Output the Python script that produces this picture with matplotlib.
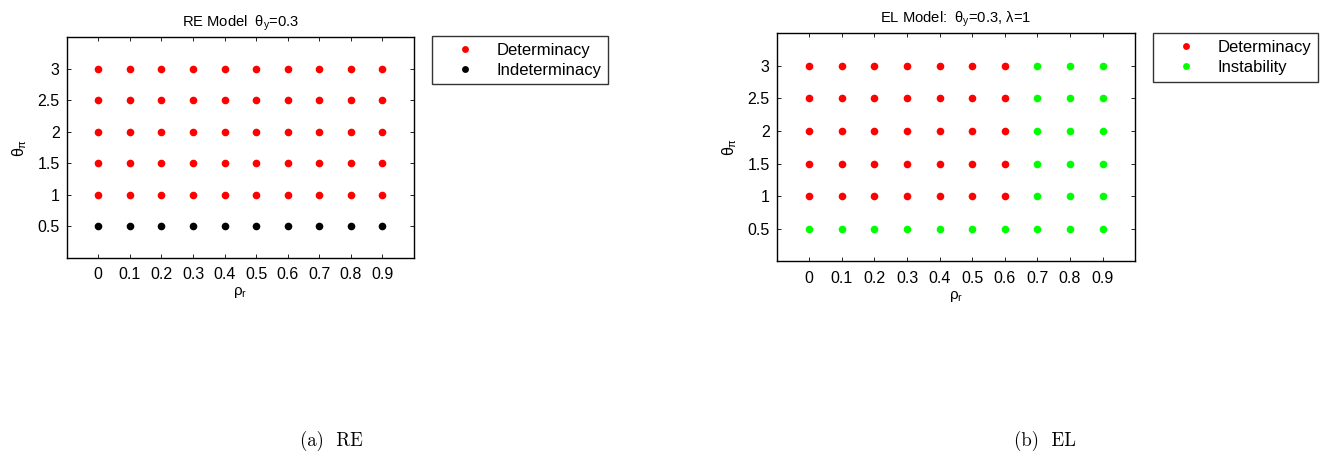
import matplotlib
matplotlib.use("Agg")
import matplotlib.pyplot as plt
import numpy as np

plt.rcParams["font.family"] = ["Liberation Sans", "DejaVu Sans"]
plt.rcParams["mathtext.fontset"] = "custom"
plt.rcParams["mathtext.rm"] = "Liberation Sans"
plt.rcParams["mathtext.it"] = "Liberation Sans"
plt.rcParams["mathtext.bf"] = "Liberation Sans:bold"

# Grid of policy parameters
rho_r = [0.0, 0.1, 0.2, 0.3, 0.4, 0.5, 0.6, 0.7, 0.8, 0.9]
theta_pi = [0.5, 1.0, 1.5, 2.0, 2.5, 3.0]

# Outcome per grid point, one row per theta_pi (bottom to top), one letter per rho_r
# d = determinacy, i = indeterminacy, s = instability
re_grid = [
    "iiiiiiiiii",
    "dddddddddd",
    "dddddddddd",
    "dddddddddd",
    "dddddddddd",
    "dddddddddd",
]
el_grid = [
    "ssssssssss",
    "dddddddsss",
    "dddddddsss",
    "dddddddsss",
    "dddddddsss",
    "dddddddsss",
]

labels = {"d": "Determinacy", "i": "Indeterminacy", "s": "Instability"}
colors = {"d": "#ff0000", "i": "#000000", "s": "#00ff00"}

re_title = r"RE Model  $\theta_y$=0.3"
el_title = r"EL Model:  $\theta_y$=0.3, $\lambda$=1"


def points_for(grid, code):
    xs, ys = [], []
    for j, row in enumerate(grid):
        for i, c in enumerate(row):
            if c == code:
                xs.append(rho_r[i])
                ys.append(theta_pi[j])
    return xs, ys


def draw_panel(ax, grid, codes, title, legend_anchor):
    for code in codes:
        xs, ys = points_for(grid, code)
        ax.plot(xs, ys, "o", color=colors[code], markersize=5.5, markeredgewidth=0,
                label=labels[code])
    ax.set_xlim(-0.1, 1.0)
    ax.set_ylim(0.0, 3.5)
    ax.set_xticks(rho_r)
    ax.set_xticklabels(["0"] + ["%g" % v for v in rho_r[1:]])
    ax.set_yticks(theta_pi)
    ax.set_yticklabels(["%g" % v for v in theta_pi])
    ax.tick_params(direction="in", length=3, width=0.6, labelsize=11.5,
                   top=True, right=True, pad=5)
    ax.tick_params(axis="x", pad=7)
    for s in ax.spines.values():
        s.set_linewidth(1.0)
    ax.set_title(title, fontsize=10.6, pad=8)
    ax.set_xlabel(r"$\rho_r$", fontsize=11, labelpad=2)
    ax.set_ylabel(r"$\theta_\pi$", fontsize=11.5, labelpad=6)
    leg = ax.legend(loc="upper left", bbox_to_anchor=legend_anchor,
                    bbox_transform=fig.transFigure, borderaxespad=0,
                    fancybox=False, edgecolor="black", fontsize=12,
                    handletextpad=0.3, handlelength=3.2, borderpad=0.4,
                    labelspacing=0.3, markerscale=0.9)
    leg.get_frame().set_linewidth(1.0)


fig = plt.figure(figsize=(13.37, 4.63), dpi=100)
ax1 = fig.add_axes([0.0499, 0.4434, 0.2598, 0.476])
ax2 = fig.add_axes([0.5809, 0.4356, 0.2682, 0.4924])

draw_panel(ax1, re_grid, ["d", "i"], re_title, (0.3229, 0.9222))
draw_panel(ax2, el_grid, ["d", "s"], el_title, (0.8622, 0.9281))

fig.text(331 / 1337, 1 - 441 / 463, "(a)  RE", family="cmr10", fontsize=13.5,
         ha="center", va="center")
fig.text(1045 / 1337, 1 - 441 / 463, "(b)  EL", family="cmr10", fontsize=13.5,
         ha="center", va="center")

fig.savefig("out.png", dpi=100)
